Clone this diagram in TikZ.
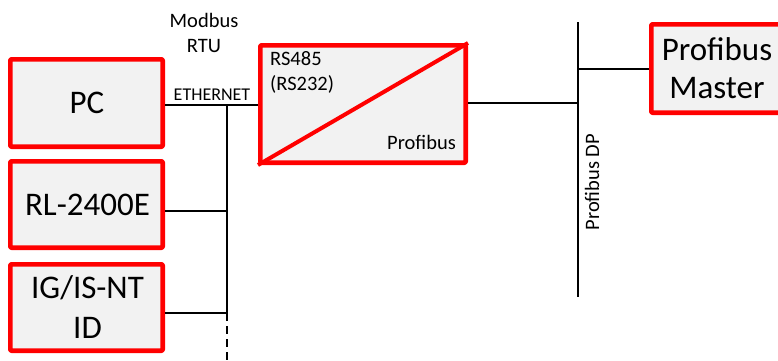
\documentclass[tikz,border=0pt]{standalone}
\usepackage{fontspec}
\setmainfont{Carlito}
\begin{document}
\begin{tikzpicture}[x=1pt,y=-1pt,
  box/.style={draw=red,fill=boxgray,line width=4.6pt,line join=round,rounded corners=1pt,inner sep=0pt},
  wire/.style={line width=2.8pt},
  big/.style={font=\fontsize{33}{40}\selectfont,inner sep=0pt,anchor=base},
  mid/.style={font=\fontsize{20.5}{25}\selectfont,inner sep=0pt,anchor=base},
  small/.style={font=\fontsize{18}{22}\selectfont,inner sep=0pt,anchor=base}]
\definecolor{boxgray}{HTML}{F2F2F2}
\useasboundingbox (0,0) rectangle (778,360);
% boxes
\node[box,minimum width=152.4pt,minimum height=87.4pt] (pc) at (86.5,103) {};
\node[box,minimum width=152.4pt,minimum height=86.4pt] (rl) at (86.5,204.5) {};
\node[box,minimum width=152.4pt,minimum height=86.4pt] (ig) at (86.5,307.5) {};
\node[box,minimum width=205.4pt,minimum height=117.4pt] (conv) at (363,104) {};
\node[box,minimum width=131.4pt,minimum height=88.4pt] (master) at (717,68.5) {};
\draw[red,line width=4pt] (conv.south west) -- (conv.north east);
% texts
\node[big] (tpc) at (87,113) {PC};
\node[big] (trl) at (87.5,215) {RL-2400E};
\node[big] (tig1) at (87.5,298) {IG/IS-NT};
\node[big] (tig2) at (87.5,338) {ID};
\node[big] (tm1) at (717,60) {Profibus};
\node[big] (tm2) at (717,98) {Master};
\node[mid] (mod1) at (204,27) {Modbus};
\node[mid] (mod2) at (204,52) {RTU};
\node[small] (eth) at (212,100) {ETHERNET};
\node[mid,anchor=base west] (rs1) at (270,65) {RS485};
\node[mid,anchor=base west] (rs2) at (270,90) {(RS232)};
\node[mid,anchor=base east] (pb) at (456,149) {Profibus};
\node[mid,rotate=90,anchor=center] (dp) at (592,182) {Profibus DP};
% wires
\coordinate (j1) at (227,105);
\coordinate (j2) at (227,211);
\coordinate (j3) at (227,313);
\coordinate (jend) at (227,362);
\coordinate (pbtop) at (578,22);
\coordinate (pbbot) at (578,297);
\coordinate (pb1) at (578,69);
\coordinate (pb2) at (578,103);
\draw[wire] (j1 -| pc.east) -- (j1 -| conv.west);
\draw[wire] (j2 -| rl.east) -- (j2);
\draw[wire] (j3 -| ig.east) -- (j3);
\draw[wire] (j1) -- (j3);
\draw[line width=1.6pt,dash pattern=on 8pt off 5pt] (j3) -- (jend);
\draw[wire] (pbtop) -- (pbbot);
\draw[wire] (pb2 -| conv.east) -- (pb2);
\draw[wire] (pb1) -- (pb1 -| master.west);
\end{tikzpicture}
\end{document}
